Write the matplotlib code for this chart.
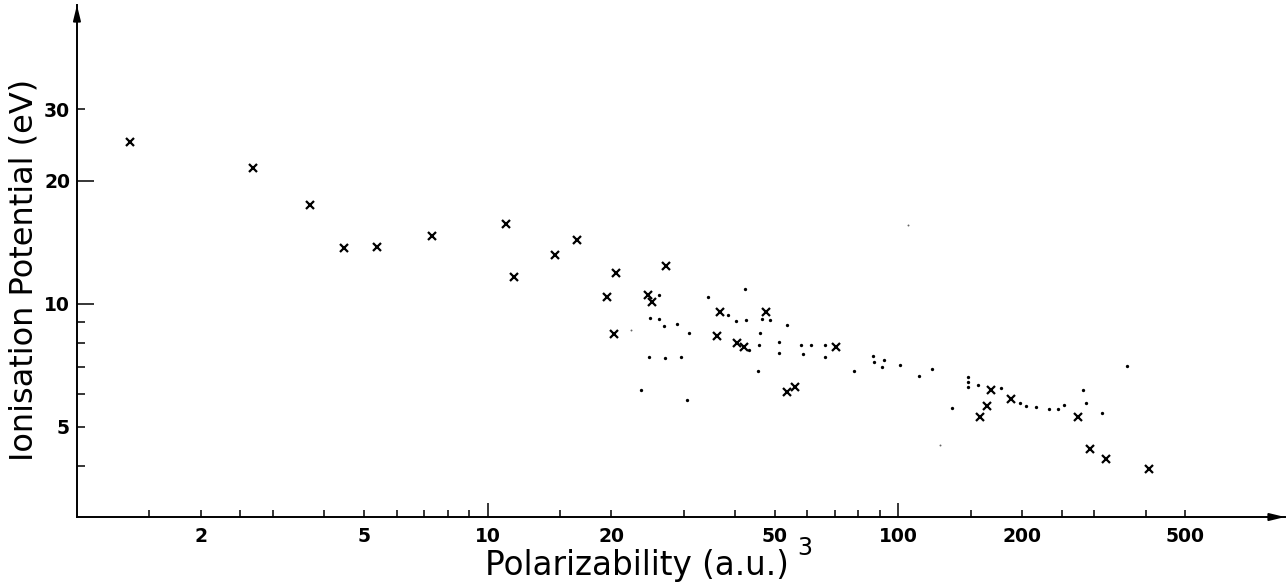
import matplotlib
matplotlib.use("Agg")
import matplotlib.pyplot as plt
from matplotlib.ticker import FixedLocator, FuncFormatter

# atoms / molecules marked with crosses
cross_alpha = [1.35, 2.68, 3.69, 4.46, 5.38, 7.34, 11.1, 11.6, 14.6, 16.5,
               20.5, 27.2, 19.5, 24.6, 25.2, 20.3, 36.9, 47.7, 36.1, 40.4,
               42.1, 70.4, 53.7, 55.9, 167.7, 187.6, 164.9, 158.1, 273.2,
               292.2, 321.2, 408.7]
cross_ip = [24.9, 21.5, 17.5, 13.7, 13.8, 14.7, 15.7, 11.6, 13.2, 14.3,
            11.9, 12.4, 10.4, 10.5, 10.1, 8.41, 9.52, 9.54, 8.33, 8.01,
            7.85, 7.84, 6.07, 6.24, 6.15, 5.84, 5.62, 5.28, 5.29,
            4.41, 4.17, 3.94]

# clusters marked with dots
dot_alpha = [26.2, 34.4, 42.4, 38.4, 40.3, 42.6, 46.6, 48.8, 53.7, 24.9,
             26.2, 26.9, 28.9, 31.0, 46.1, 45.7, 51.3, 51.3, 43.4, 57.8,
             61.2, 66.4, 58.7, 66.4, 24.7, 27.0, 29.5, 45.5, 78.2, 23.6,
             30.5, 87.0, 87.1, 92.5, 91.5, 101.1, 112.5, 120.5, 147.8, 147.6,
             147.8, 156.3, 178.1, 197.8, 205.2, 217.0, 232.6, 245.5, 253.9, 135.1,
             281.5, 286.2, 314.1, 361.4]
dot_ip = [10.52, 10.4, 10.88, 9.36, 9.09, 9.14, 9.19, 9.12, 8.85, 9.23,
          9.17, 8.80, 8.90, 8.46, 8.46, 7.93, 8.08, 7.57, 7.71, 7.92,
          7.92, 7.94, 7.54, 7.39, 7.40, 7.37, 7.39, 6.83, 6.85, 6.14,
          5.82, 7.43, 7.20, 7.30, 7.01, 7.07, 6.67, 6.93, 6.62, 6.43,
          6.25, 6.32, 6.20, 5.72, 5.60, 5.57, 5.51, 5.52, 5.65, 5.54,
          6.15, 5.72, 5.41, 7.04]

# faint specks
faint_alpha = [126.6, 22.3, 105.3]
faint_ip = [4.51, 8.6, 15.6]

x_major = [10, 100]
x_minor = [1.5, 2, 2.5, 3, 4, 5, 6, 7, 8, 9, 15, 20, 30, 40, 50, 60, 70, 80,
           90, 150, 200, 250, 300, 400, 500]
x_labeled = [2, 5, 20, 50, 200, 500]
y_major = [10, 20]
y_minor = [4, 5, 6, 7, 8, 9, 30]
y_labeled = [5, 30]

fig = plt.figure(figsize=(12.87, 5.88), dpi=100)
ax = fig.add_axes([0.0598, 0.1207, 0.9386, 0.8707])

ax.plot(cross_alpha, cross_ip, "x", color="k", ms=6, mew=1.6)
ax.plot(dot_alpha, dot_ip, "o", color="k", ms=2.4, mew=0)
ax.plot(faint_alpha, faint_ip, "o", color="0.4", ms=1.4, mew=0)

ax.set_xscale("log")
ax.set_yscale("log")
ax.set_xlim(1.0, 874)
ax.set_ylim(3.0, 54)

for s in ["top", "right"]:
    ax.spines[s].set_visible(False)
for s in ["left", "bottom"]:
    ax.spines[s].set_linewidth(1.4)

lab = lambda keep: FuncFormatter(lambda v, p: f"{v:g}" if any(abs(v - k) < 1e-6 for k in keep) else "")

ax.xaxis.set_major_locator(FixedLocator(x_major))
ax.xaxis.set_minor_locator(FixedLocator(x_minor))
ax.xaxis.set_major_formatter(lab(x_major))
ax.xaxis.set_minor_formatter(lab(x_labeled))
ax.yaxis.set_major_locator(FixedLocator(y_major))
ax.yaxis.set_minor_locator(FixedLocator(y_minor))
ax.yaxis.set_major_formatter(lab(y_major))
ax.yaxis.set_minor_formatter(lab(y_labeled))

ax.tick_params(axis="x", which="major", direction="in", length=10, width=1.1, pad=7)
ax.tick_params(axis="x", which="minor", direction="in", length=5, width=1.1, pad=7)
ax.tick_params(axis="y", which="major", direction="in", length=12, width=1.1, pad=5)
ax.tick_params(axis="y", which="minor", direction="in", length=6, width=1.1, pad=5)
for t in ax.get_xticklabels(which="both") + ax.get_yticklabels(which="both"):
    t.set_fontsize(13.5)
    t.set_fontweight("bold")

# arrow heads at the ends of both axes
ax.annotate("", xy=(1.0, 0), xytext=(0.985, 0), xycoords="axes fraction",
            arrowprops=dict(arrowstyle="-|>,head_length=0.9,head_width=0.22",
                            color="k", lw=1.4, shrinkA=0, shrinkB=0))
ax.annotate("", xy=(0, 1.0), xytext=(0, 0.97), xycoords="axes fraction",
            arrowprops=dict(arrowstyle="-|>,head_length=0.9,head_width=0.22",
                            color="k", lw=1.4, shrinkA=0, shrinkB=0))

fig.text(0.019, 0.541, "Ionisation Potential (eV)", rotation=90,
         ha="center", va="center", fontsize=23)
fig.text(0.495, 0.039, "Polarizability (a.u.)", ha="center", va="center",
         fontsize=23.5)
fig.text(0.6255, 0.068, "3", ha="center", va="center", fontsize=17)

fig.savefig("out.png", dpi=100, facecolor="white")
